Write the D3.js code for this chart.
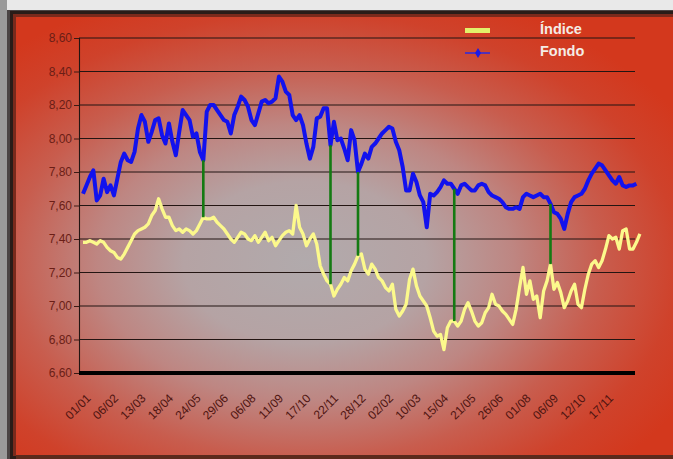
<!DOCTYPE html>
<html>
<head>
<meta charset="utf-8">
<script src="https://cdn.jsdelivr.net/npm/d3@7"></script>
<style>
  html, body { margin: 0; padding: 0; background: #e9e9e9; }
  svg { display: block; }
</style>
</head>
<body>
<svg id="chart" width="673" height="459"></svg>
<script>
// Fund vs. index, one sample every ~3 trading days
const fondo = [
  7.67,7.72,7.77,7.81,7.63,7.66,7.76,7.68,7.72,7.66,
  7.76,7.86,7.91,7.87,7.86,7.92,8.06,8.14,8.10,7.98,
  8.04,8.11,8.12,8.02,7.97,8.09,7.98,7.90,8.04,8.17,
  8.14,8.11,8.01,8.03,7.92,7.87,8.16,8.20,8.20,8.17,
  8.14,8.11,8.10,8.03,8.14,8.19,8.25,8.23,8.19,8.11,
  8.08,8.15,8.22,8.23,8.21,8.22,8.24,8.37,8.34,8.28,
  8.26,8.14,8.11,8.14,8.08,7.97,7.88,7.95,8.12,8.13,
  8.18,8.18,7.96,8.10,7.99,8.00,7.94,7.87,8.05,7.99,
  7.80,7.85,7.91,7.88,7.95,7.97,8.00,8.03,8.05,8.07,
  8.06,7.98,7.93,7.83,7.69,7.69,7.79,7.74,7.66,7.62,
  7.47,7.67,7.66,7.68,7.71,7.75,7.73,7.73,7.70,7.67,
  7.72,7.73,7.71,7.69,7.69,7.72,7.73,7.72,7.68,7.66,
  7.65,7.64,7.62,7.59,7.58,7.58,7.59,7.58,7.65,7.67,
  7.66,7.65,7.66,7.67,7.65,7.65,7.61,7.56,7.55,7.52,
  7.46,7.55,7.62,7.65,7.66,7.67,7.70,7.75,7.79,7.82,
  7.85,7.84,7.81,7.78,7.75,7.73,7.77,7.72,7.71,7.72,
  7.72,7.73
];
const indice = [
  7.38,7.38,7.39,7.38,7.37,7.39,7.38,7.35,7.33,7.32,
  7.29,7.28,7.31,7.35,7.39,7.43,7.45,7.46,7.47,7.49,
  7.54,7.57,7.64,7.58,7.53,7.53,7.48,7.45,7.46,7.44,
  7.46,7.45,7.43,7.45,7.49,7.53,7.52,7.52,7.53,7.50,
  7.48,7.46,7.43,7.40,7.38,7.41,7.44,7.43,7.40,7.39,
  7.42,7.38,7.41,7.44,7.39,7.41,7.36,7.39,7.42,7.44,
  7.45,7.43,7.60,7.47,7.43,7.36,7.40,7.43,7.37,7.24,
  7.19,7.15,7.13,7.06,7.10,7.13,7.17,7.15,7.21,7.25,
  7.30,7.31,7.22,7.19,7.25,7.22,7.17,7.15,7.11,7.09,
  7.13,6.98,6.94,6.97,7.01,7.16,7.22,7.12,7.06,7.03,
  7.00,6.93,6.85,6.82,6.83,6.74,6.87,6.91,6.91,6.88,
  6.91,6.98,7.02,6.97,6.91,6.88,6.90,6.96,6.99,7.07,
  7.01,7.00,6.97,6.95,6.92,6.89,6.98,7.11,7.23,7.07,
  7.15,7.04,7.06,6.93,7.09,7.15,7.25,7.10,7.14,7.08,
  6.99,7.03,7.09,7.13,7.01,6.99,7.10,7.19,7.25,7.27,
  7.23,7.27,7.34,7.42,7.40,7.41,7.34,7.45,7.46,7.34,
  7.34,7.38,7.43
];
// Date labels, one every 8 samples
const fechas = ["01/01","06/02","13/03","18/04","24/05","29/06","06/08","11/09","17/10","22/11",
                "28/12","02/02","10/03","15/04","21/05","26/06","01/08","06/09","12/10","17/11"];
const pasoFechas = 8;
// Samples where fund and index are joined by a vertical connector
const enlaces = [35, 72, 80, 108, 136];
const yTicks = [6.6, 6.8, 7.0, 7.2, 7.4, 7.6, 7.8, 8.0, 8.2, 8.4, 8.6];

const svg = d3.select("#chart");
const W = 673, H = 459;
const plot = { left: 79, right: 635, top: 38, bottom: 373 };

// Frame and background
const defs = svg.append("defs");
const grad = defs.append("radialGradient")
  .attr("id", "fondoGrad")
  .attr("cx", 0.44).attr("cy", 0.56).attr("r", 0.66)
  .attr("fx", 0.44).attr("fy", 0.56);
[[0, "#b1aaac"], [0.28, "#b5a3a4"], [0.48, "#be8682"], [0.68, "#c85d4e"], [0.86, "#cf422b"], [1, "#d3381d"]]
  .forEach(([o, c]) => grad.append("stop").attr("offset", o).attr("stop-color", c));

svg.append("rect").attr("x", 0).attr("y", 0).attr("width", 7).attr("height", H).attr("fill", "#9a9a9a");
svg.append("rect").attr("x", 7).attr("y", 10).attr("width", W - 7).attr("height", H - 10).attr("fill", "#4a4444");
svg.append("rect").attr("x", 10).attr("y", 11).attr("width", W - 10).attr("height", H - 11).attr("fill", "#2a1c18");
svg.append("rect").attr("x", 13).attr("y", 14).attr("width", W - 13).attr("height", H - 17).attr("fill", "#7a2a1c");
svg.append("rect").attr("x", 16).attr("y", 17).attr("width", W - 16).attr("height", 438)
  .attr("fill", "url(#fondoGrad)");
svg.append("rect").attr("x", 16).attr("y", 455).attr("width", W - 16).attr("height", 4).attr("fill", "#5c2a1c");

const x = d3.scaleLinear().domain([0, 162]).range([83, 83 + 162 * 3.4375]);
const y = d3.scaleLinear().domain([6.6, 8.6]).range([plot.bottom, plot.top]);

// Horizontal gridlines
svg.append("g").selectAll("line")
  .data(yTicks.filter(v => v > 6.6))
  .join("line")
  .attr("x1", plot.left).attr("x2", plot.right)
  .attr("y1", d => y(d)).attr("y2", d => y(d))
  .attr("stroke", "#231512").attr("stroke-width", 1.1);

// Y axis
const yAxis = svg.append("g")
  .attr("transform", `translate(${plot.left},0)`)
  .call(d3.axisLeft(y).tickValues(yTicks).tickSize(5).tickPadding(2)
    .tickFormat(d => d3.format(".2f")(d).replace(".", ",")));
yAxis.select(".domain").attr("stroke", "#231512").attr("stroke-width", 1.1);
yAxis.selectAll(".tick line").attr("stroke", "#3a1a14");
yAxis.selectAll("text")
  .attr("fill", "#6a1e16")
  .style("font-family", "'Liberation Sans', Arial, sans-serif")
  .style("font-size", "12px");

// X axis labels, rotated
const xAxis = svg.append("g")
  .attr("transform", `translate(0,${plot.bottom})`)
  .call(d3.axisBottom(x).tickValues(fechas.map((_, i) => i * pasoFechas)).tickSize(0)
    .tickFormat((d, i) => fechas[i]));
xAxis.select(".domain").remove();
xAxis.selectAll("text")
  .attr("fill", "#4e1410")
  .style("font-family", "'Liberation Sans', Arial, sans-serif")
  .style("font-size", "12px")
  .attr("text-anchor", "end")
  .attr("dy", "0.35em")
  .attr("transform", "translate(3,21) rotate(-45)");

// Thick base line
svg.append("line")
  .attr("x1", plot.left).attr("x2", plot.right)
  .attr("y1", y(6.6)).attr("y2", y(6.6))
  .attr("stroke", "#000").attr("stroke-width", 4);

// Series
const line = d3.line().x((d, i) => x(i)).y(d => y(d));
svg.append("path").datum(indice)
  .attr("d", line).attr("fill", "none")
  .attr("stroke", "#fcf98c").attr("stroke-width", 3.3)
  .attr("stroke-linejoin", "round");
svg.append("path").datum(fondo)
  .attr("d", line).attr("fill", "none")
  .attr("stroke", "#1212ee").attr("stroke-width", 4)
  .attr("stroke-linejoin", "round");

// Connectors between fund and index
svg.append("g").selectAll("line")
  .data(enlaces)
  .join("line")
  .attr("x1", d => x(d)).attr("x2", d => x(d))
  .attr("y1", d => y(fondo[d])).attr("y2", d => y(indice[d]))
  .attr("stroke", "#147a12").attr("stroke-width", 2.6);

// Legend
const leg = svg.append("g");
leg.append("rect").attr("x", 465).attr("y", 28).attr("width", 25).attr("height", 5).attr("fill", "#e2f26a");
leg.append("line").attr("x1", 465).attr("x2", 490).attr("y1", 53).attr("y2", 53)
  .attr("stroke", "#2a2ae0").attr("stroke-width", 1.5);
leg.append("path").attr("d", d3.symbol(d3.symbolDiamond, 30)())
  .attr("transform", "translate(478,53)").attr("fill", "#1a1ae8");
leg.selectAll("text")
  .data([["Índice", 29], ["Fondo", 51]])
  .join("text")
  .attr("x", 540).attr("y", d => d[1])
  .attr("dy", "0.35em")
  .attr("fill", "#f4ece6")
  .style("font-family", "'Liberation Sans', Arial, sans-serif")
  .style("font-weight", "bold")
  .style("font-size", "14.5px")
  .text(d => d[0]);
</script>
</body>
</html>
